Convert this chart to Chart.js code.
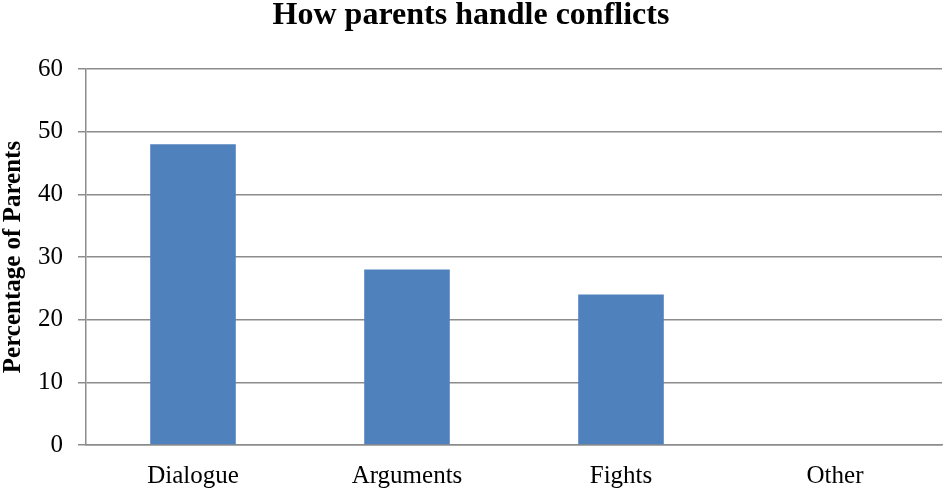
<!DOCTYPE html>
<html>
<head>
<meta charset="utf-8">
<script src="https://cdn.jsdelivr.net/npm/chart.js@4"></script>
<style>
  html, body { margin: 0; padding: 0; background: #fff; }
  #wrap { width: 944px; height: 491px; }
</style>
</head>
<body>
<div id="wrap"><canvas id="conflictChart" width="944" height="491"></canvas></div>
<script>
const categories = ["Dialogue", "Arguments", "Fights", "Other"];
const parentPercentages = [48, 28, 24, 0];
const yTickValues = [0, 10, 20, 30, 40, 50, 60];

const serif = "'Liberation Serif', 'Times New Roman', serif";
const gridColor = "#8c8c8c";

new Chart(document.getElementById("conflictChart"), {
  type: "bar",
  data: {
    labels: categories,
    datasets: [{
      label: "Percentage of Parents",
      data: parentPercentages,
      backgroundColor: "#4f81bd",
      borderWidth: 0,
      barPercentage: 0.4,
      categoryPercentage: 1
    }]
  },
  options: {
    responsive: false,
    animation: false,
    layout: { padding: { left: 0, right: 2, top: 0, bottom: 0 } },
    plugins: {
      legend: { display: false },
      tooltip: { enabled: false },
      title: {
        display: true,
        text: "How parents handle conflicts",
        color: "#000",
        font: { family: serif, size: 32, weight: "bold", lineHeight: 1 },
        padding: { top: 0, bottom: 37 }
      }
    },
    scales: {
      x: {
        grid: { display: false, drawTicks: false },
        border: { display: true, color: gridColor, width: 1.5 },
        ticks: {
          color: "#000",
          font: { family: serif, size: 25, lineHeight: 1 },
          padding: 19,
          maxRotation: 0
        },
        afterFit: (scale) => { scale.height = 46; }
      },
      y: {
        min: 0,
        max: 60,
        afterBuildTicks: (scale) => {
          scale.ticks = yTickValues.map((value) => ({ value }));
        },
        grid: { color: gridColor, lineWidth: 1.5, tickLength: 8, drawTicks: true },
        border: { display: true, color: gridColor, width: 1.5 },
        ticks: {
          color: "#000",
          font: { family: serif, size: 25, lineHeight: 1 },
          padding: 15
        },
        title: {
          display: true,
          text: "Percentage of Parents",
          color: "#000",
          font: { family: serif, size: 25, weight: "bold", lineHeight: 1 },
          padding: { top: 1, bottom: 0 }
        },
        afterFit: (scale) => { scale.width = 86; }
      }
    }
  }
});
</script>
</body>
</html>
